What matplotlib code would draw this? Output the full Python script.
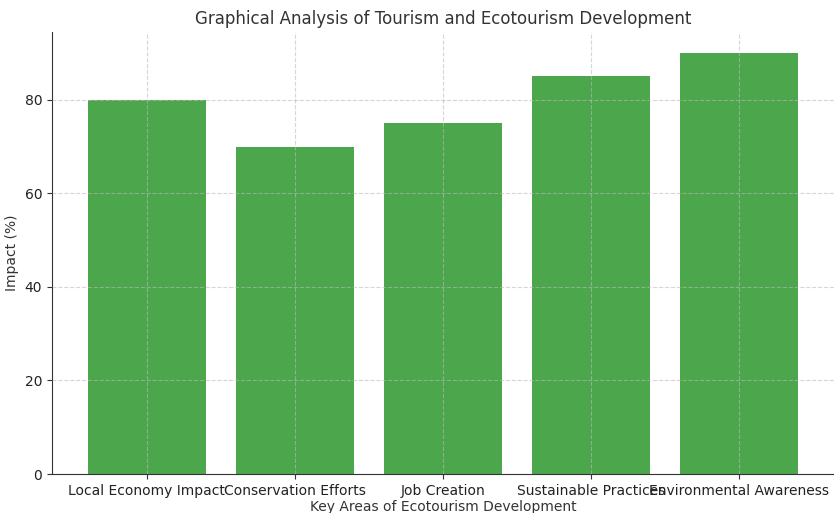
import matplotlib
matplotlib.use("Agg")
import matplotlib.pyplot as plt

categories = ["Local Economy Impact", "Conservation Efforts", "Job Creation",
              "Sustainable Practices", "Environmental Awareness"]
impact = [80, 70, 75, 85, 90]

plt.rcParams['font.family'] = ['DejaVu Sans']
dpi = 100
fig = plt.figure(figsize=(834 / dpi, 513 / dpi), dpi=dpi)
W, H = 834, 513
ax = fig.add_axes([52 / W, (H - 474) / H, (834 - 52) / W, (474 - 32) / H])

ax.bar(categories, impact, color='green', alpha=0.7)
ax.set_title("Graphical Analysis of Tourism and Ecotourism Development",
             fontsize=12, color='#333333')
ax.set_xlabel("Key Areas of Ecotourism Development", fontsize=10, color='#333333',
              labelpad=2)
ax.set_ylabel("Impact (%)", fontsize=10, color='#333333')
ax.grid(True, linestyle='--', color='#bbbbbb', alpha=0.6)
ax.set_axisbelow(False)
for s in ['top', 'right']:
    ax.spines[s].set_visible(False)
for s in ['left', 'bottom']:
    ax.spines[s].set_color('#333333')
ax.tick_params(colors='#333333', labelsize=10)
for lbl in ax.get_xticklabels() + ax.get_yticklabels():
    lbl.set_color('#222222')

fig.savefig("out.png", dpi=dpi)
